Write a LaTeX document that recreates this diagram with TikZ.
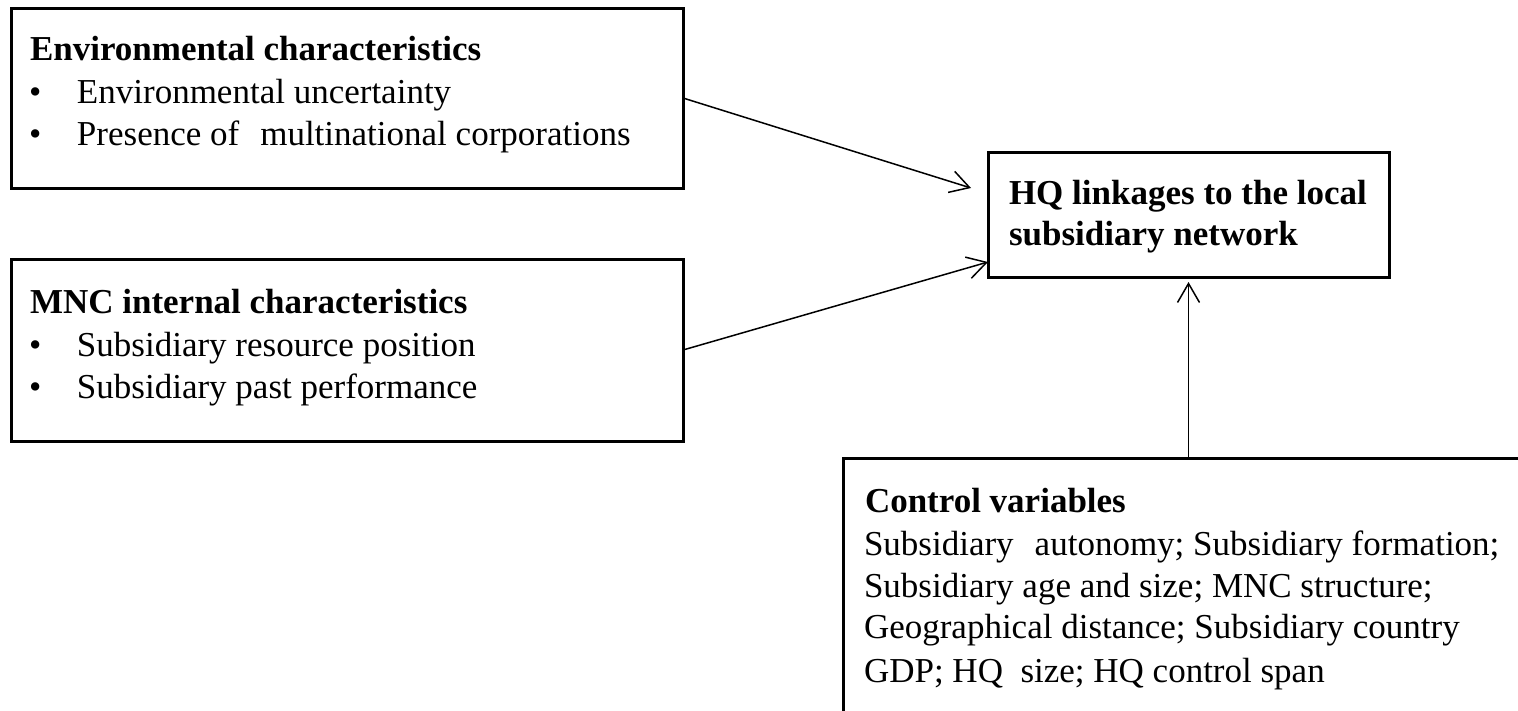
\documentclass[tikz,border=0pt]{standalone}
\usepackage{fontspec}
\setmainfont{Liberation Serif}
\usetikzlibrary{arrows.meta,calc}
\begin{document}
\begin{tikzpicture}[x=1pt,y=-1pt,
  box/.style={draw=black, line width=3pt, rectangle, inner sep=0pt, outer sep=0pt, anchor=north west},
  txt/.style={anchor=base west, inner sep=0pt, outer sep=0pt, font=\fontsize{35}{42}\selectfont},
  hd/.style={txt, font=\fontsize{35}{42}\selectfont\bfseries},
  arr/.style={line width=1.5pt, -{Straight Barb[length=19pt,width=22pt]}}]
\useasboundingbox (0,0) rectangle (1518,710);
\clip (0,0) rectangle (1518,710);
\newcommand{\bul}{\makebox[48pt][l]{\textbullet}}
% boxes
\node[box, minimum width=672pt, minimum height=180pt] (env) at (11,8) {};
\node[box, minimum width=672pt, minimum height=182pt] (mnc) at (11,259) {};
\node[box, minimum width=401pt, minimum height=125pt] (hq) at (988,152) {};
\node[box, minimum width=700pt, minimum height=280pt] (ctrl) at (843,458) {};
% environmental characteristics
\node[hd] (envh) at (30,60) {Environmental characteristics};
\node[txt] (enva) at (29,103) {\bul Environmental uncertainty};
\node[txt] (envb) at (29,145) {\bul Presence of\hspace{0.6em}multinational corporations};
% MNC internal characteristics
\node[hd] (mnch) at (30,313) {MNC internal characteristics};
\node[txt] (mnca) at (29,356) {\bul Subsidiary resource position};
\node[txt] (mncb) at (29,398) {\bul Subsidiary past performance};
% HQ
\node[hd] (hqa) at (1009,204) {HQ linkages to the local};
\node[hd] (hqb) at (1009,245) {subsidiary network};
% control variables
\node[hd] (ctrlh) at (865,512) {Control variables};
\node[txt] (ctrla) at (864,555) {Subsidiary\hspace{0.6em}autonomy; Subsidiary formation;};
\node[txt] (ctrlb) at (864,597) {Subsidiary age and size; MNC structure;};
\node[txt] (ctrlc) at (864,638) {Geographical distance; Subsidiary country};
\node[txt] (ctrld) at (864,682) {GDP; HQ\hspace{0.5em}size; HQ control span};
% connectors
\coordinate (t1) at (971,188);
\draw[arr] (env.east) -- (t1);
\draw[arr] (mnc.east) -- ($(hq.south west)+(0,-15)$);
\draw[arr, shorten >=5pt] (ctrl.north -| hq.south) -- (hq.south);
\end{tikzpicture}
\end{document}
